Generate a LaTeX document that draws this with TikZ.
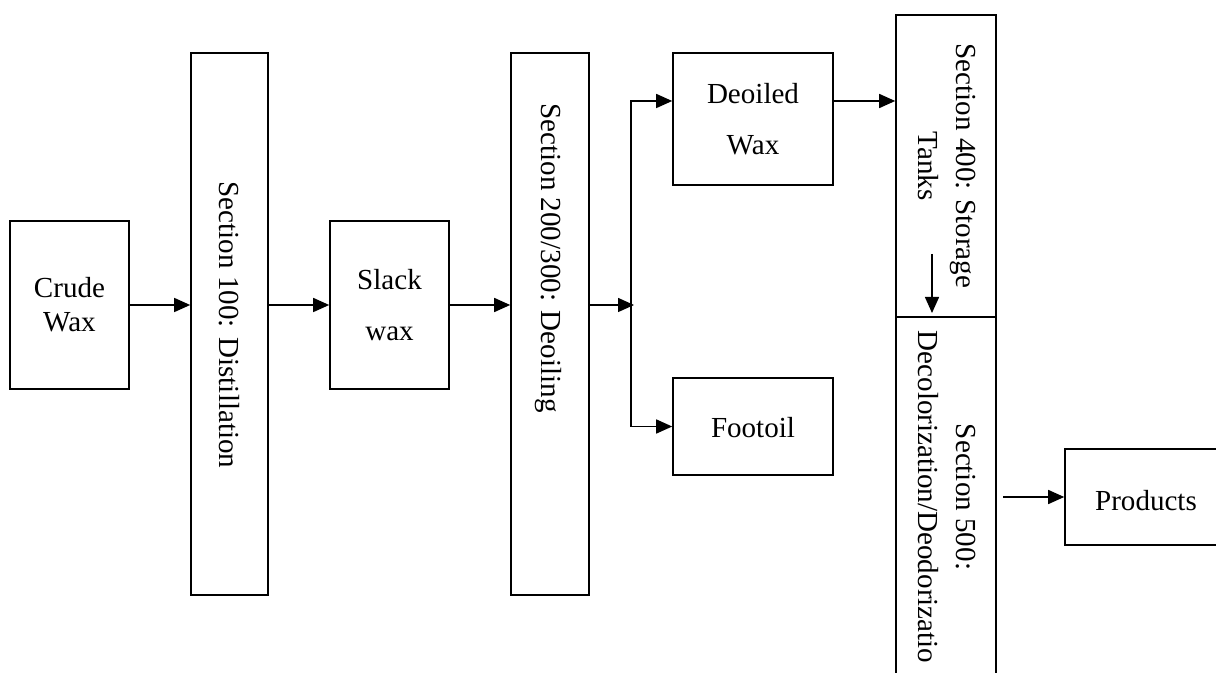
\documentclass[tikz,border=0pt]{standalone}
\usepackage{fontspec}
\setmainfont{Liberation Serif}
\usetikzlibrary{fit,arrows.meta}
\begin{document}
\begin{tikzpicture}[x=0.75pt,y=-0.75pt,
  box/.style={draw, line width=1.2pt, inner sep=0pt},
  txt/.style={inner sep=0pt, align=center, font=\fontsize{21.8}{25.5}\selectfont},
  widetxt/.style={txt, font=\fontsize{21.8}{38.5}\selectfont},
  arr/.style={line width=1.1pt, -{Triangle[length=12pt,width=10.5pt]}},
  lbl/.style={font=\fontsize{21.8}{28.5}\selectfont, align=center, inner sep=0pt, rotate=-90}]
\useasboundingbox (0,0) rectangle (1216,673);
% boxes
\node[box, fit={(10,221) (129,389)}] (crude) {};
\node[txt] (tcrude) at (crude.center) {Crude\\Wax};
\node[box, fit={(191,53) (268,595)}] (sec100) {};
\node[lbl] (t100) at (229,325) {Section 100: Distillation};
\node[box, fit={(330,221) (449,389)}] (slack) {};
\node[widetxt] (tslack) at (slack.center) {Slack\\wax};
\node[box, fit={(511,53) (589,595)}] (sec200) {};
\node[lbl] (t200) at (548,258) {Section 200/300: Deoiling};
\node[box, fit={(673,53) (833,185)}] (deoiled) {};
\node[widetxt] (tdeoiled) at (deoiled.center) {Deoiled\\Wax};
\node[box, fit={(673,378) (833,475)}] (footoil) {};
\node[txt] (tfootoil) at (753,427.5) {Footoil};
\node[box, fit={(896,15) (996,317)}] (sec400) {};
\node[lbl] (t400) at (947,166) {Section 400: Storage\\Tanks};
\node[box, fit={(896,317) (996,690)}] (sec500) {};
\node[lbl] (t500) at (947,497) {Section 500:\\Decolorization/Deodorizatio};
\node[box, fit={(1065,449) (1226,545)}] (products) {};
\node[txt] (tproducts) at (1146,501) {Products};
% connectors
\draw[arr] (crude.east) -- (crude.east -| sec100.west);
\draw[arr] (sec100.east |- slack.west) -- (slack.west);
\draw[arr] (slack.east) -- (slack.east -| sec200.west);
\coordinate (br) at (631,305);
\coordinate (brtip) at (634,305);
\coordinate (dy) at (0,101);
\draw[arr] (sec200.east |- br) -- (brtip);
\draw[arr] (br) |- (deoiled.west |- dy);
\draw[arr] (br) |- (footoil.west);
\draw[arr] (deoiled.east |- dy) -- (sec400.west |- dy);
\coordinate (d1) at (932,254);
\coordinate (d2) at (932,313);
\draw[arr] (d1) -- (d2);
\coordinate (p0) at (1003,497);
\draw[arr] (p0) -- (products.west);
\end{tikzpicture}
\end{document}
